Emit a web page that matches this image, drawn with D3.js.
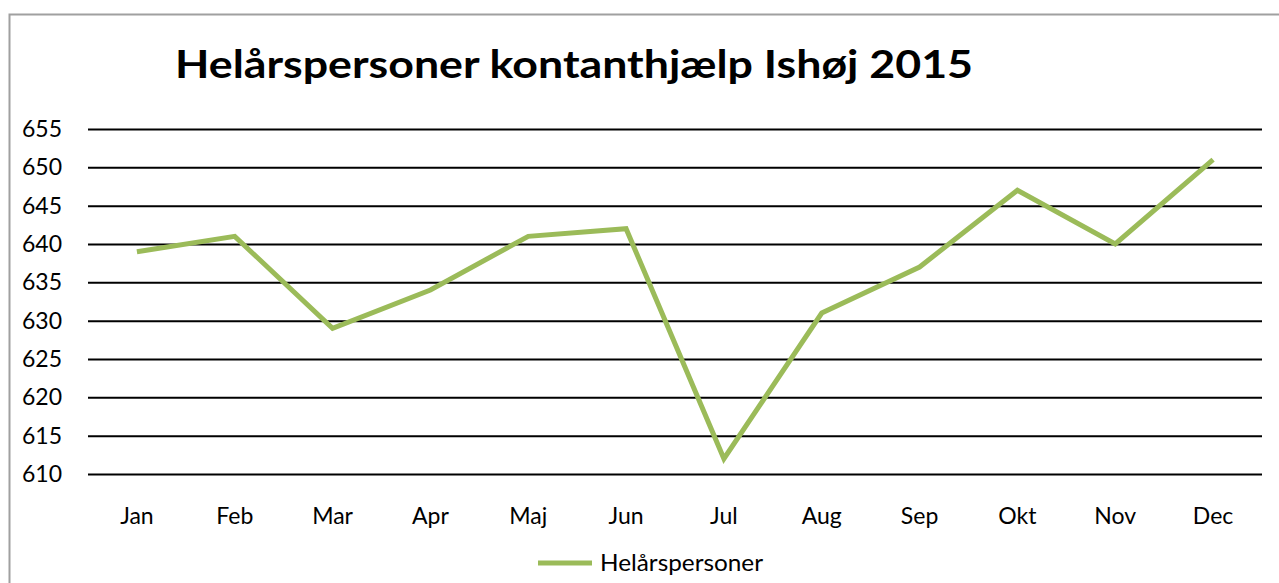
<!DOCTYPE html>
<html>
<head>
<meta charset="utf-8">
<script src="https://cdn.jsdelivr.net/npm/d3@7"></script>
<style>
  body { margin: 0; background: #fff; }
  text { font-family: Lato, "Open Sans", sans-serif; fill: #000; }
</style>
</head>
<body>
<script>
const width  = 1279
const height = 583

const months = ["Jan", "Feb", "Mar", "Apr", "Maj", "Jun", "Jul", "Aug", "Sep", "Okt", "Nov", "Dec"];
const helaarspersoner = [639, 641, 629, 634, 641, 642, 612, 631, 637, 647, 640, 651];
const yTicks = [610, 615, 620, 625, 630, 635, 640, 645, 650, 655];

const margin = {top: 129, right: 17, bottom: 109, left: 88};

const svg = d3.select("body").append("svg")
	.attr("width", width)
	.attr("height", height);

// chart border
svg.append("rect")
	.attr("x", 9.5)
	.attr("y", 14.5)
	.attr("width", width + 10)
	.attr("height", height + 10)
	.attr("fill", "none")
	.attr("stroke", "#a0a0a0")
	.attr("stroke-width", 2);

const x = d3.scaleBand()
	.domain(months)
	.range([margin.left, width - margin.right]);

const y = d3.scaleLinear()
	.domain([610, 655])
	.range([height - margin.bottom, margin.top]);

// title
svg.append("text")
	.attr("x", 175)
	.attr("y", 78)
	.attr("font-size", 39)
	.attr("font-weight", "bold")
	.attr("textLength", 798)
	.attr("lengthAdjust", "spacingAndGlyphs")
	.text("Helårspersoner kontanthjælp Ishøj 2015");

// gridlines + y labels
svg.append("g")
	.attr("transform", `translate(${margin.left},0)`)
	.call(d3.axisLeft(y)
		.tickValues(yTicks)
		.tickSize(-(width - margin.left - margin.right))
		.tickPadding(26)
		.tickFormat(d3.format("d")))
	.call(g => g.select(".domain").remove())
	.call(g => g.selectAll(".tick line")
		.attr("stroke", "#000")
		.attr("stroke-width", 2))
	.call(g => g.selectAll(".tick text")
		.attr("font-size", 23)
		.attr("font-family", "Lato, 'Open Sans', sans-serif")
		.attr("fill", "#000"));

// x labels
svg.append("g")
	.attr("transform", `translate(0,${height - margin.bottom})`)
	.call(d3.axisBottom(x).tickSize(0).tickPadding(34))
	.call(g => g.select(".domain").remove())
	.call(g => g.selectAll(".tick text")
		.attr("font-size", 23)
		.attr("font-family", "Lato, 'Open Sans', sans-serif")
		.attr("fill", "#000"));

// series line
const line = d3.line()
	.x((d, i) => x(months[i]) + x.bandwidth() / 2)
	.y(d => y(d));

svg.append("path")
	.datum(helaarspersoner)
	.attr("fill", "none")
	.attr("stroke", "#9bbb59")
	.attr("stroke-width", 5)
	.attr("stroke-linejoin", "miter")
	.attr("d", line);

// legend
const legend = svg.append("g")
	.attr("transform", "translate(538,563)");

legend.append("line")
	.attr("x1", 0)
	.attr("x2", 54)
	.attr("stroke", "#9bbb59")
	.attr("stroke-width", 5);

legend.append("text")
	.attr("x", 62)
	.attr("y", 8)
	.attr("font-size", 23)
	.attr("textLength", 163)
	.attr("lengthAdjust", "spacingAndGlyphs")
	.text("Helårspersoner");
</script>
</body>
</html>
